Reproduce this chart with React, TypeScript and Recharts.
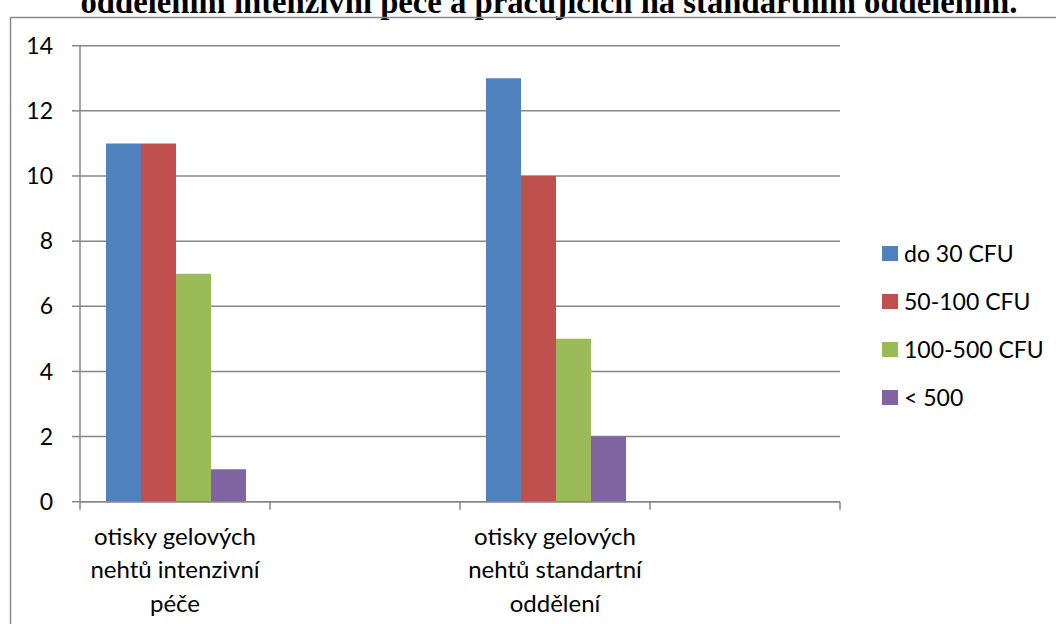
import React from 'react';
import { BarChart, Bar, XAxis, YAxis, CartesianGrid } from 'recharts';

// Categories (two empty slots keep the original spacing of the axis)
const categories = [
  'otisky gelových nehtů intenzivní péče',
  '',
  'otisky gelových nehtů standartní oddělení',
  ' ',
];
const categoryLines = [
  ['otisky gelových', 'nehtů intenzivní', 'péče'],
  [],
  ['otisky gelových', 'nehtů standartní', 'oddělení'],
  [],
];

const seriesNames = ['do 30 CFU', '50-100 CFU', '100-500 CFU', '< 500'];
const do30Cfu = [11, null, 13, null];
const cfu50to100 = [11, null, 10, null];
const cfu100to500 = [7, null, 5, null];
const over500 = [1, null, 2, null];
const seriesValues = [do30Cfu, cfu50to100, cfu100to500, over500];

const yTicks = [0, 2, 4, 6, 8, 10, 12, 14];
const titleText = 'oddělením intenzivní péče a pracujících na standartním oddělením.';

const colors = ['#4F81BD', '#C0504D', '#9BBB59', '#8064A2'];
const GRID = '#868686';
const FONT = 'Lato, "Open Sans", sans-serif';

const W = 1056;
const H = 624;
const PLOT_LEFT = 80;
const PLOT_RIGHT = 840;
const PLOT_TOP = 45.7;
const PLOT_BOTTOM = 501.7;
const SLOT = (PLOT_RIGHT - PLOT_LEFT) / categories.length;

const data = categories.map((name, i) => {
  const row: Record<string, string | number | null> = { name };
  seriesValues.forEach((vals, s) => {
    row['s' + s] = vals[i];
  });
  return row;
});

const CategoryTick = (props: any) => {
  const { x, y, index } = props;
  const lines = categoryLines[index] || [];
  const half = SLOT / 2;
  return (
    <g>
      <line x1={x - half} x2={x - half} y1={y} y2={y + 8} stroke={GRID} strokeWidth={1.5} />
      {index === categories.length - 1 && (
        <line x1={x + half} x2={x + half} y1={y} y2={y + 8} stroke={GRID} strokeWidth={1.5} />
      )}
      <text textAnchor="middle" fontFamily={FONT} fontSize={24} fill="#000">
        {lines.map((l, i) => (
          <tspan key={i} x={x} y={y + 43 + i * 33.5}>
            {l}
          </tspan>
        ))}
      </text>
    </g>
  );
};

export default function App() {
  return (
    <div
      style={{
        position: 'fixed',
        left: 0,
        top: 0,
        width: W,
        height: H,
        overflow: 'hidden',
        background: '#fff',
      }}
    >
      <BarChart
        width={W}
        height={H}
        data={data}
        margin={{ top: PLOT_TOP, right: W - PLOT_RIGHT, bottom: 0, left: 0 }}
        barCategoryGap={26}
        barGap={0}
      >
        <CartesianGrid horizontal vertical={false} stroke={GRID} strokeWidth={1.5} />
        <XAxis
          dataKey="name"
          interval={0}
          height={H - PLOT_BOTTOM}
          tickLine={false}
          tickSize={0}
          tickMargin={0}
          axisLine={{ stroke: GRID, strokeWidth: 1.5 }}
          tick={<CategoryTick />}
        />
        <YAxis
          width={PLOT_LEFT}
          domain={[0, 14]}
          ticks={yTicks}
          interval={0}
          tickSize={8}
          tickMargin={19}
          tickLine={{ stroke: GRID, strokeWidth: 1.5 }}
          axisLine={{ stroke: GRID, strokeWidth: 1.5 }}
          tick={{ fill: '#000', fontSize: 23, fontFamily: FONT }}
        />
        {seriesNames.map((n, s) => (
          <Bar key={n} dataKey={'s' + s} name={n} fill={colors[s]} isAnimationActive={false} />
        ))}
      </BarChart>

      <div style={{ position: 'absolute', left: 882, top: 229, fontFamily: FONT, fontSize: 23 }}>
        {seriesNames.map((n, s) => (
          <div key={n} style={{ display: 'flex', alignItems: 'center', height: 48 }}>
            <span style={{ width: 16, height: 15, background: colors[s], display: 'inline-block', marginRight: 6 }} />
            <span style={{ color: '#000' }}>{n}</span>
          </div>
        ))}
      </div>

      <svg width={W} height={H} style={{ position: 'absolute', left: 0, top: 0, pointerEvents: 'none' }}>
        <text
          x={549}
          y={13}
          textAnchor="middle"
          fontFamily='"Liberation Serif", "Times New Roman", serif'
          fontWeight="bold"
          fontSize={32.7}
          fill="#000"
        >
          {titleText}
        </text>
        <rect x={10.5} y={17.5} width={W + 50} height={H + 50} fill="none" stroke="#8a8a8a" strokeWidth={1.5} />
      </svg>
    </div>
  );
}
